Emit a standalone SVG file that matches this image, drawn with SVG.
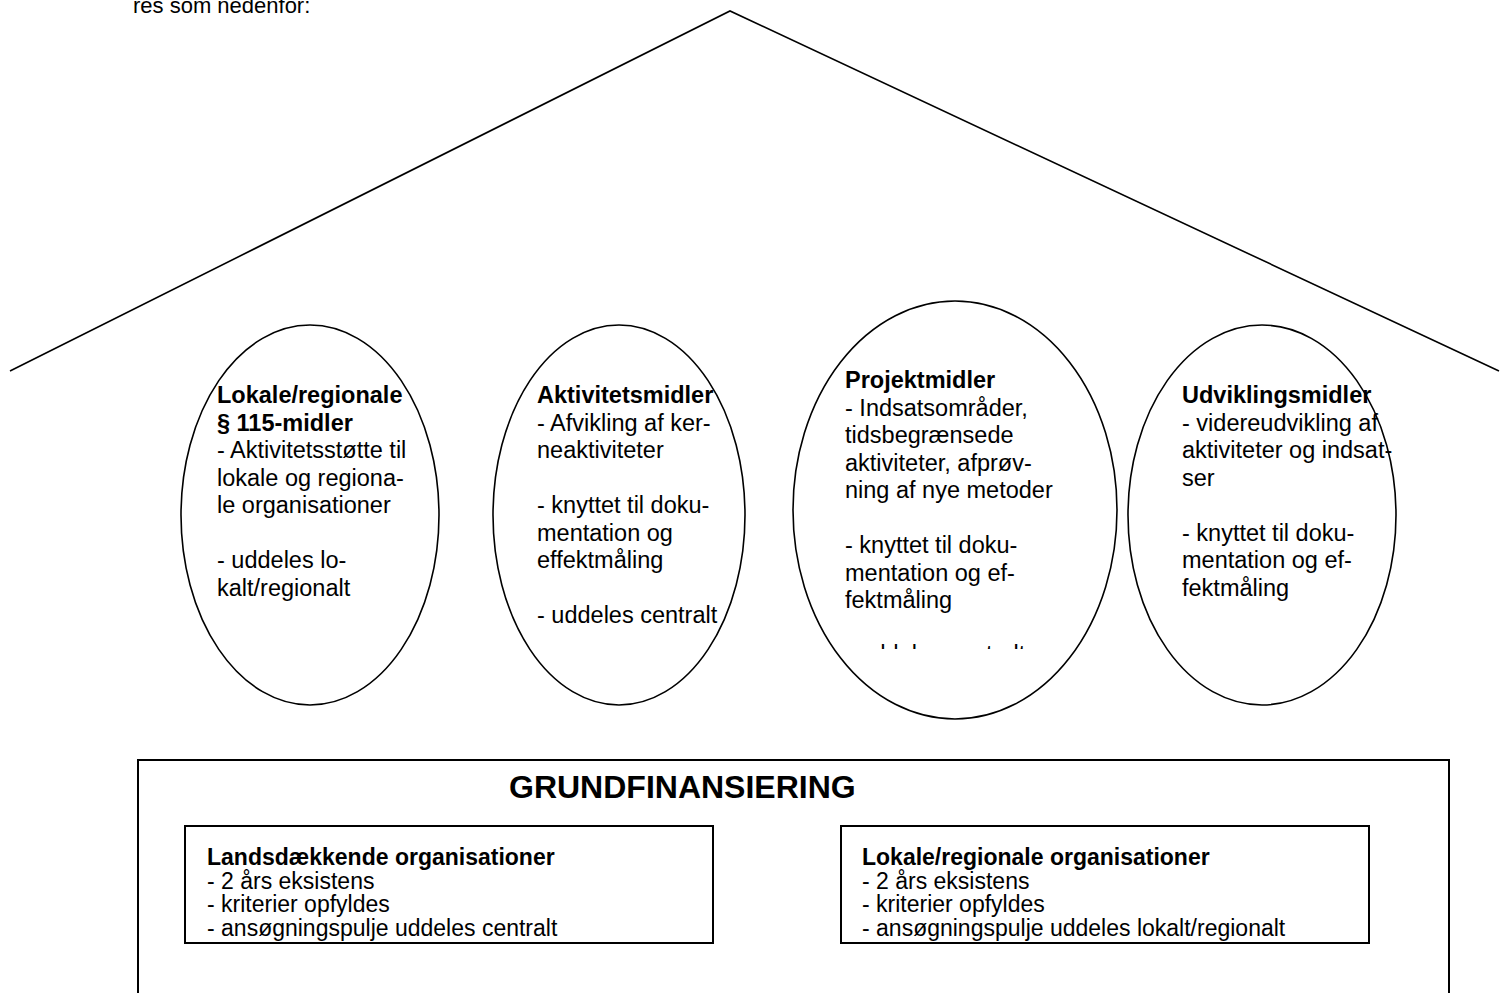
<svg xmlns="http://www.w3.org/2000/svg" width="1509" height="993" viewBox="0 0 1509 993">
<style>
text{font-family:"Liberation Sans",Arial,sans-serif;fill:#000}
.t{font-size:23.5px}
.b{font-weight:bold}
.bx{font-size:23px}
.shape{fill:none;stroke:#000;stroke-width:1.6}
.box{fill:#fff;stroke:#000;stroke-width:2}
</style>
<defs>
<clipPath id="clip3"><rect x="780" y="290" width="350" height="359"/></clipPath>
</defs>
<rect width="1509" height="993" fill="#fff"/>
<text x="133" y="13" style="font-size:22px">res som nedenfor:</text>
<g id="connectors">
<polyline class="shape" points="10,371 730,11 1499,371"/>
</g>
<g id="e1">
<ellipse class="shape" cx="310" cy="515" rx="129" ry="190"/>
<text class="t" x="217"><tspan class="b" x="217" y="403">Lokale/regionale</tspan><tspan class="b" x="217" y="430.5">§ 115-midler</tspan><tspan x="217" y="458">- Aktivitetsstøtte til</tspan><tspan x="217" y="485.5">lokale og regiona-</tspan><tspan x="217" y="513">le organisationer</tspan><tspan x="217" y="568">- uddeles lo-</tspan><tspan x="217" y="595.5">kalt/regionalt</tspan></text>
</g>
<g id="e2">
<ellipse class="shape" cx="619" cy="515" rx="126" ry="190"/>
<text class="t" x="537"><tspan class="b" x="537" y="403">Aktivitetsmidler</tspan><tspan x="537" y="430.5">- Afvikling af ker-</tspan><tspan x="537" y="458">neaktiviteter</tspan><tspan x="537" y="513">- knyttet til doku-</tspan><tspan x="537" y="540.5">mentation og</tspan><tspan x="537" y="568">effektmåling</tspan><tspan x="537" y="623">- uddeles centralt</tspan></text>
</g>
<g id="e3">
<ellipse class="shape" cx="955" cy="510" rx="162" ry="209"/>
<text class="t" x="845" clip-path="url(#clip3)"><tspan class="b" x="845" y="388">Projektmidler</tspan><tspan x="845" y="415.5">- Indsatsområder,</tspan><tspan x="845" y="443">tidsbegrænsede</tspan><tspan x="845" y="470.5">aktiviteter, afprøv-</tspan><tspan x="845" y="498">ning af nye metoder</tspan><tspan x="845" y="553">- knyttet til doku-</tspan><tspan x="845" y="580.5">mentation og ef-</tspan><tspan x="845" y="608">fektmåling</tspan><tspan x="845" y="662">- uddeles centralt</tspan></text>
</g>
<g id="e4">
<ellipse class="shape" cx="1262" cy="515" rx="134" ry="190"/>
<text class="t" x="1182"><tspan class="b" x="1182" y="403">Udviklingsmidler</tspan><tspan x="1182" y="430.5">- videreudvikling af</tspan><tspan x="1182" y="458">aktiviteter og indsat-</tspan><tspan x="1182" y="485.5">ser</tspan><tspan x="1182" y="540.5">- knyttet til doku-</tspan><tspan x="1182" y="568">mentation og ef-</tspan><tspan x="1182" y="595.5">fektmåling</tspan></text>
</g>
<g id="grund">
<path class="box" d="M138,1000 V760 H1449 V1000"/>
<text class="b" x="509" y="798" style="font-size:32px">GRUNDFINANSIERING</text>
</g>
<g id="lands">
<rect class="box" x="185" y="826" width="528" height="117"/>
<text class="bx" x="207"><tspan class="b" x="207" y="865">Landsdækkende organisationer</tspan><tspan x="207" y="888.5">- 2 års eksistens</tspan><tspan x="207" y="912">- kriterier opfyldes</tspan><tspan x="207" y="935.5">- ansøgningspulje uddeles centralt</tspan></text>
</g>
<g id="lokal">
<rect class="box" x="841" y="826" width="528" height="117"/>
<text class="bx" x="862"><tspan class="b" x="862" y="865">Lokale/regionale organisationer</tspan><tspan x="862" y="888.5">- 2 års eksistens</tspan><tspan x="862" y="912">- kriterier opfyldes</tspan><tspan x="862" y="935.5">- ansøgningspulje uddeles lokalt/regionalt</tspan></text>
</g>
</svg>
